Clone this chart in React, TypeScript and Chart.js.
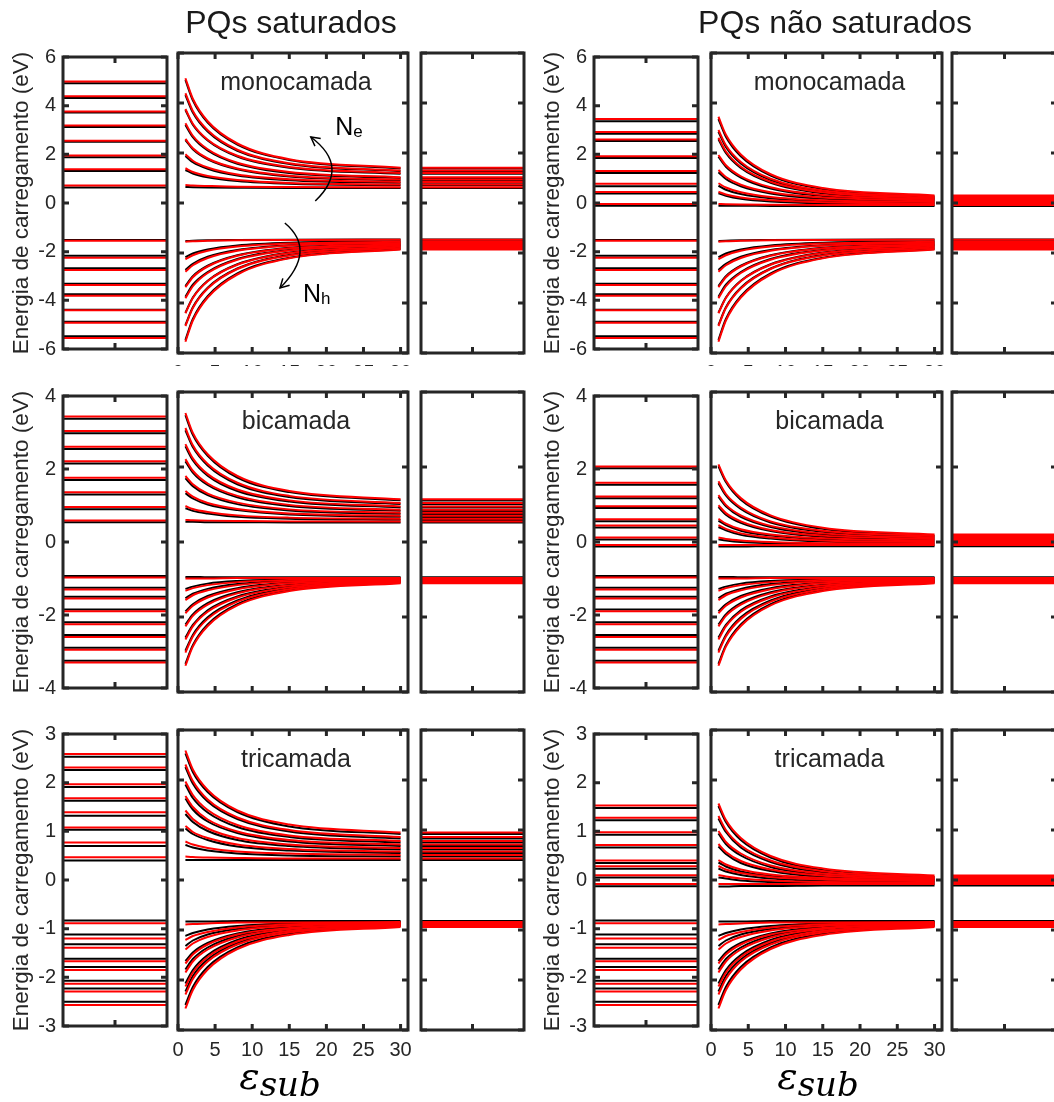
import React, { useEffect, useRef } from 'react';
import { Chart, registerables } from 'chart.js';

Chart.register(...registerables);

// ε_sub values at which every charging-energy curve is sampled
const EPS_SUB = [1, 2, 4, 8, 15, 30];

// Axis ticks
const EPS_TICKS = [0, 5, 10, 15, 20, 25, 30];
const EPS_MAX = 31;
const LEVEL_TICKS = [0.5];
const MONO_Y_TICKS = [-6, -4, -2, 0, 2, 4, 6];
const BI_Y_TICKS = [-4, -2, 0, 2, 4];
const TRI_Y_TICKS = [-3, -2, -1, 0, 1, 2, 3];

// ---- monocamada ----
// electrons (Ne), PQs saturados; one row per level, one column per EPS_SUB
const MONO_SAT_E_RED = [
  [0.72, 0.70, 0.68, 0.65, 0.64, 0.63],
  [1.39, 1.24, 1.08, 0.92, 0.80, 0.74],
  [1.95, 1.69, 1.42, 1.14, 0.95, 0.84],
  [2.56, 2.19, 1.78, 1.38, 1.09, 0.94],
  [3.19, 2.69, 2.15, 1.61, 1.24, 1.03],
  [3.76, 3.17, 2.53, 1.89, 1.44, 1.20],
  [4.39, 3.68, 2.91, 2.13, 1.59, 1.30],
  [4.99, 4.17, 3.27, 2.38, 1.75, 1.41],
];
const MONO_SAT_E_BLK = [
  [0.64, 0.63, 0.62, 0.61, 0.60, 0.60],
  [1.32, 1.18, 1.03, 0.88, 0.77, 0.71],
  [1.88, 1.63, 1.37, 1.10, 0.91, 0.81],
  [2.52, 2.15, 1.75, 1.35, 1.06, 0.91],
  [3.12, 2.63, 2.10, 1.57, 1.20, 1.00],
  [3.72, 3.13, 2.50, 1.86, 1.41, 1.17],
  [4.32, 3.62, 2.86, 2.09, 1.56, 1.27],
  [4.92, 4.11, 3.22, 2.34, 1.72, 1.38],
];
// electrons (Ne), PQs não saturados
const MONO_NSAT_E_RED = [
  [-0.04, -0.05, -0.06, -0.07, -0.08, -0.08],
  [0.45, 0.34, 0.22, 0.11, 0.03, -0.02],
  [0.79, 0.62, 0.43, 0.24, 0.11, 0.04],
  [1.32, 1.04, 0.73, 0.43, 0.22, 0.10],
  [1.92, 1.51, 1.07, 0.63, 0.32, 0.15],
  [2.61, 2.06, 1.45, 0.85, 0.43, 0.20],
  [2.92, 2.31, 1.64, 0.97, 0.50, 0.25],
  [3.45, 2.73, 1.94, 1.15, 0.60, 0.30],
];
const MONO_NSAT_E_BLK = [
  [-0.11, -0.11, -0.11, -0.12, -0.12, -0.12],
  [0.39, 0.29, 0.17, 0.06, -0.02, -0.06],
  [0.69, 0.53, 0.36, 0.19, 0.07, 0.0],
  [1.23, 0.96, 0.67, 0.38, 0.17, 0.06],
  [1.85, 1.45, 1.02, 0.58, 0.28, 0.11],
  [2.55, 2.00, 1.40, 0.81, 0.39, 0.16],
  [2.85, 2.24, 1.58, 0.92, 0.46, 0.21],
  [3.36, 2.65, 1.87, 1.10, 0.56, 0.26],
];
// holes (Nh), same for both cases
const MONO_H_RED = [
  [-1.55, -1.53, -1.51, -1.49, -1.48, -1.47],
  [-2.25, -2.09, -1.91, -1.74, -1.62, -1.55],
  [-2.75, -2.49, -2.20, -1.91, -1.71, -1.60],
  [-3.37, -2.97, -2.54, -2.11, -1.81, -1.65],
  [-3.81, -3.33, -2.80, -2.27, -1.90, -1.70],
  [-4.41, -3.80, -3.13, -2.47, -2.00, -1.75],
  [-4.92, -4.20, -3.42, -2.64, -2.10, -1.80],
  [-5.55, -4.70, -3.78, -2.86, -2.21, -1.86],
];
const MONO_H_BLK = [
  [-1.52, -1.51, -1.49, -1.48, -1.47, -1.46],
  [-2.17, -2.02, -1.86, -1.70, -1.59, -1.53],
  [-2.68, -2.43, -2.15, -1.88, -1.69, -1.58],
  [-3.32, -2.93, -2.51, -2.09, -1.79, -1.63],
  [-3.75, -3.27, -2.76, -2.24, -1.88, -1.68],
  [-4.39, -3.78, -3.11, -2.45, -1.98, -1.73],
  [-4.88, -4.17, -3.39, -2.62, -2.08, -1.78],
  [-5.48, -4.64, -3.73, -2.82, -2.19, -1.84],
];

// ---- bicamada ----
const BI_SAT_E_RED = [
  [0.59, 0.58, 0.57, 0.56, 0.55, 0.55],
  [0.96, 0.88, 0.80, 0.71, 0.65, 0.62],
  [1.36, 1.21, 1.04, 0.88, 0.76, 0.70],
  [1.76, 1.54, 1.29, 1.05, 0.87, 0.78],
  [2.21, 1.90, 1.56, 1.23, 0.99, 0.86],
  [2.61, 2.23, 1.81, 1.40, 1.11, 0.95],
  [3.04, 2.58, 2.08, 1.58, 1.23, 1.04],
  [3.44, 2.91, 2.34, 1.76, 1.36, 1.14],
];
const BI_SAT_E_BLK = [
  [0.54, 0.54, 0.53, 0.53, 0.52, 0.52],
  [0.90, 0.83, 0.76, 0.67, 0.62, 0.59],
  [1.30, 1.16, 1.00, 0.85, 0.73, 0.67],
  [1.70, 1.49, 1.25, 1.01, 0.84, 0.75],
  [2.15, 1.85, 1.52, 1.19, 0.96, 0.83],
  [2.55, 2.18, 1.77, 1.36, 1.08, 0.92],
  [2.98, 2.53, 2.04, 1.54, 1.20, 1.01],
  [3.38, 2.86, 2.30, 1.72, 1.33, 1.11],
];
const BI_NSAT_E_RED = [
  [-0.08, -0.08, -0.08, -0.08, -0.08, -0.08],
  [0.12, 0.08, 0.04, 0.00, -0.03, -0.04],
  [0.45, 0.35, 0.23, 0.12, 0.04, 0.0],
  [0.62, 0.49, 0.34, 0.20, 0.10, 0.04],
  [0.98, 0.77, 0.55, 0.32, 0.17, 0.08],
  [1.25, 0.99, 0.71, 0.43, 0.23, 0.12],
  [1.62, 1.28, 0.92, 0.55, 0.30, 0.16],
  [2.07, 1.64, 1.17, 0.71, 0.38, 0.20],
];
const BI_NSAT_E_BLK = [
  [-0.12, -0.12, -0.12, -0.11, -0.11, -0.11],
  [0.07, 0.04, 0.00, -0.03, -0.06, -0.07],
  [0.40, 0.31, 0.19, 0.09, 0.01, -0.03],
  [0.57, 0.45, 0.30, 0.17, 0.07, 0.01],
  [0.93, 0.73, 0.51, 0.29, 0.14, 0.05],
  [1.20, 0.95, 0.67, 0.40, 0.20, 0.09],
  [1.57, 1.24, 0.88, 0.52, 0.27, 0.13],
  [2.02, 1.60, 1.13, 0.68, 0.35, 0.17],
];
const BI_H_RED = [
  [-0.97, -0.97, -0.97, -0.96, -0.96, -0.96],
  [-1.30, -1.23, -1.15, -1.07, -1.01, -0.98],
  [-1.55, -1.42, -1.29, -1.15, -1.05, -1.00],
  [-1.90, -1.70, -1.48, -1.26, -1.10, -1.02],
  [-2.25, -1.97, -1.67, -1.37, -1.16, -1.04],
  [-2.60, -2.25, -1.86, -1.48, -1.21, -1.06],
  [-2.95, -2.52, -2.05, -1.59, -1.26, -1.08],
  [-3.30, -2.79, -2.24, -1.69, -1.31, -1.10],
];
const BI_H_BLK = [
  [-0.93, -0.93, -0.94, -0.94, -0.94, -0.94],
  [-1.25, -1.19, -1.11, -1.04, -0.99, -0.96],
  [-1.50, -1.38, -1.25, -1.12, -1.03, -0.98],
  [-1.85, -1.66, -1.44, -1.23, -1.08, -1.00],
  [-2.20, -1.93, -1.63, -1.34, -1.14, -1.02],
  [-2.55, -2.21, -1.82, -1.45, -1.19, -1.04],
  [-2.90, -2.48, -2.01, -1.56, -1.24, -1.06],
  [-3.25, -2.75, -2.20, -1.66, -1.29, -1.08],
];

// ---- tricamada ----
const TRI_SAT_E_RED = [
  [0.47, 0.46, 0.45, 0.44, 0.43, 0.43],
  [0.77, 0.71, 0.64, 0.57, 0.53, 0.50],
  [1.08, 0.96, 0.84, 0.71, 0.62, 0.57],
  [1.39, 1.22, 1.03, 0.84, 0.71, 0.64],
  [1.68, 1.46, 1.21, 0.97, 0.80, 0.71],
  [1.97, 1.70, 1.40, 1.10, 0.89, 0.78],
  [2.31, 1.98, 1.61, 1.25, 1.00, 0.86],
  [2.59, 2.21, 1.80, 1.39, 1.11, 0.95],
];
const TRI_SAT_E_BLK = [
  [0.40, 0.40, 0.40, 0.40, 0.40, 0.40],
  [0.70, 0.65, 0.59, 0.53, 0.49, 0.47],
  [1.03, 0.92, 0.80, 0.67, 0.59, 0.54],
  [1.32, 1.16, 0.98, 0.80, 0.68, 0.61],
  [1.63, 1.41, 1.17, 0.94, 0.77, 0.68],
  [1.91, 1.64, 1.35, 1.06, 0.86, 0.75],
  [2.26, 1.93, 1.57, 1.22, 0.97, 0.83],
  [2.53, 2.16, 1.76, 1.36, 1.07, 0.92],
];
const TRI_NSAT_E_RED = [
  [-0.08, -0.08, -0.08, -0.08, -0.08, -0.08],
  [0.10, 0.07, 0.03, -0.01, -0.04, -0.05],
  [0.28, 0.21, 0.14, 0.06, 0.01, -0.02],
  [0.40, 0.31, 0.21, 0.11, 0.04, 0.0],
  [0.72, 0.56, 0.38, 0.21, 0.09, 0.02],
  [0.98, 0.76, 0.53, 0.29, 0.13, 0.04],
  [1.28, 1.00, 0.69, 0.39, 0.18, 0.06],
  [1.53, 1.20, 0.84, 0.48, 0.23, 0.09],
];
const TRI_NSAT_E_BLK = [
  [-0.13, -0.13, -0.12, -0.12, -0.11, -0.11],
  [0.05, 0.03, -0.01, -0.04, -0.07, -0.08],
  [0.23, 0.17, 0.10, 0.03, -0.02, -0.05],
  [0.35, 0.27, 0.17, 0.08, 0.01, -0.03],
  [0.67, 0.52, 0.34, 0.18, 0.06, -0.01],
  [0.93, 0.72, 0.49, 0.26, 0.10, 0.01],
  [1.23, 0.96, 0.65, 0.36, 0.15, 0.03],
  [1.48, 1.16, 0.80, 0.45, 0.20, 0.06],
];
const TRI_H_RED = [
  [-0.89, -0.88, -0.87, -0.85, -0.85, -0.84],
  [-1.20, -1.12, -1.04, -0.95, -0.89, -0.86],
  [-1.39, -1.27, -1.14, -1.01, -0.92, -0.87],
  [-1.67, -1.49, -1.29, -1.09, -0.96, -0.88],
  [-1.85, -1.63, -1.39, -1.15, -0.98, -0.89],
  [-2.13, -1.85, -1.54, -1.23, -1.02, -0.90],
  [-2.29, -1.98, -1.63, -1.29, -1.05, -0.92],
  [-2.57, -2.20, -1.79, -1.38, -1.10, -0.94],
];
const TRI_H_BLK = [
  [-0.83, -0.83, -0.83, -0.82, -0.82, -0.82],
  [-1.12, -1.06, -0.99, -0.92, -0.87, -0.84],
  [-1.32, -1.21, -1.09, -0.98, -0.90, -0.85],
  [-1.62, -1.45, -1.26, -1.07, -0.93, -0.86],
  [-1.79, -1.58, -1.35, -1.12, -0.96, -0.87],
  [-2.07, -1.80, -1.50, -1.20, -0.99, -0.88],
  [-2.23, -1.92, -1.59, -1.26, -1.03, -0.90],
  [-2.50, -2.14, -1.74, -1.35, -1.07, -0.92],
];

// Curved arrows with carrier labels, in (ε_sub, eV) coordinates of the top-left curve panel
const CARRIER_ARROWS = [
  { from: [18.5, 0.08], ctrl: [23.3, 1.44], to: [17.9, 2.64], label: [21.2, 2.72], sub: 'e' },
  { from: [14.4, -0.8], ctrl: [18.8, -1.9], to: [13.75, -3.4], label: [16.85, -3.96], sub: 'h' },
];

const RED = '#ff0000';
const BLACK = '#000000';
const INK = '#262626';
const SANS = "'Liberation Sans', Arial, Helvetica, sans-serif";
const Y_TITLE = 'Energia de carregamento (eV)';

type Curves = number[][];
interface GroupData { eRed: Curves; eBlk: Curves; hRed: Curves; hBlk: Curves }
interface RowData { label: string; yTicks: number[]; groups: GroupData[] }

const ROWS: RowData[] = [
  {
    label: 'monocamada', yTicks: MONO_Y_TICKS, groups: [
      { eRed: MONO_SAT_E_RED, eBlk: MONO_SAT_E_BLK, hRed: MONO_H_RED, hBlk: MONO_H_BLK },
      { eRed: MONO_NSAT_E_RED, eBlk: MONO_NSAT_E_BLK, hRed: MONO_H_RED, hBlk: MONO_H_BLK },
    ],
  },
  {
    label: 'bicamada', yTicks: BI_Y_TICKS, groups: [
      { eRed: BI_SAT_E_RED, eBlk: BI_SAT_E_BLK, hRed: BI_H_RED, hBlk: BI_H_BLK },
      { eRed: BI_NSAT_E_RED, eBlk: BI_NSAT_E_BLK, hRed: BI_H_RED, hBlk: BI_H_BLK },
    ],
  },
  {
    label: 'tricamada', yTicks: TRI_Y_TICKS, groups: [
      { eRed: TRI_SAT_E_RED, eBlk: TRI_SAT_E_BLK, hRed: TRI_H_RED, hBlk: TRI_H_BLK },
      { eRed: TRI_NSAT_E_RED, eBlk: TRI_NSAT_E_BLK, hRed: TRI_H_RED, hBlk: TRI_H_BLK },
    ],
  },
];

const GROUP_TITLES = ['PQs saturados', 'PQs não saturados'];

// Page layout (plot-area edges in px)
const GROUP_LAYOUT = [
  { origin: 0, start: [63, 167], curves: [178, 408], end: [421, 524], titleX: 291, epsX: 280 },
  { origin: 531, start: [594, 698], curves: [711, 942], end: [952, 1057], titleX: 835, epsX: 818 },
];
const ROW_TOP = [53, 392, 730];
const PANEL_H = 300;
const PAD = 15;
const TICK_LEN = 6;

// Box with inward tick marks on all four sides
const framePlugin = {
  id: 'frame',
  afterDatasetsDraw(chart: any, _args: any, opts: any) {
    const { ctx, chartArea: a } = chart;
    const xs = chart.scales.x;
    const ys = chart.scales.y;
    ctx.save();
    ctx.strokeStyle = INK;
    ctx.lineWidth = 3;
    ctx.beginPath();
    for (const v of opts.xTicks || []) {
      const p = xs.getPixelForValue(v);
      ctx.moveTo(p, a.top);
      ctx.lineTo(p, a.top + TICK_LEN);
      ctx.moveTo(p, a.bottom);
      ctx.lineTo(p, a.bottom - TICK_LEN);
    }
    for (const v of opts.yTicks || []) {
      const p = ys.getPixelForValue(v);
      ctx.moveTo(a.left, p);
      ctx.lineTo(a.left + TICK_LEN, p);
      ctx.moveTo(a.right, p);
      ctx.lineTo(a.right - TICK_LEN, p);
    }
    ctx.stroke();
    ctx.strokeRect(a.left, a.top, a.right - a.left, a.bottom - a.top);
    ctx.restore();
  },
};

// Layer name written inside the top of the curve panel
const insetLabelPlugin = {
  id: 'insetLabel',
  afterDraw(chart: any, _args: any, opts: any) {
    if (!opts.text) return;
    const { ctx, chartArea: a } = chart;
    ctx.save();
    ctx.font = `25px ${SANS}`;
    ctx.fillStyle = INK;
    ctx.textAlign = 'center';
    ctx.textBaseline = 'alphabetic';
    ctx.fillText(opts.text, (a.left + a.right) / 2 + 3, a.top + 37);
    ctx.restore();
  },
};

const carrierArrowsPlugin = {
  id: 'carrierArrows',
  afterDatasetsDraw(chart: any) {
    const { ctx } = chart;
    const xs = chart.scales.x;
    const ys = chart.scales.y;
    const px = (p: number[]) => [xs.getPixelForValue(p[0]), ys.getPixelForValue(p[1])];
    ctx.save();
    ctx.strokeStyle = '#000';
    ctx.fillStyle = '#000';
    ctx.lineWidth = 1.5;
    for (const arr of CARRIER_ARROWS) {
      const [x0, y0] = px(arr.from);
      const [cx, cy] = px(arr.ctrl);
      const [x1, y1] = px(arr.to);
      ctx.beginPath();
      ctx.moveTo(x0, y0);
      ctx.quadraticCurveTo(cx, cy, x1, y1);
      ctx.stroke();
      const ang = Math.atan2(y1 - cy, x1 - cx);
      const L = 10;
      ctx.beginPath();
      ctx.moveTo(x1 - L * Math.cos(ang - 0.5), y1 - L * Math.sin(ang - 0.5));
      ctx.lineTo(x1, y1);
      ctx.lineTo(x1 - L * Math.cos(ang + 0.5), y1 - L * Math.sin(ang + 0.5));
      ctx.stroke();
      const [lx, ly] = px(arr.label);
      ctx.textAlign = 'left';
      ctx.textBaseline = 'alphabetic';
      ctx.font = `25px ${SANS}`;
      ctx.fillText('N', lx, ly);
      const w = ctx.measureText('N').width;
      ctx.font = `17px ${SANS}`;
      ctx.fillText(arr.sub, lx + w, ly + 2);
    }
    ctx.restore();
  },
};

type Kind = 'start' | 'curves' | 'end';
interface PanelSpec {
  id: string;
  kind: Kind;
  data: GroupData;
  yTicks: number[];
  label?: string;
  left: number; top: number; width: number; height: number; clipHeight: number;
  padding: { left: number; right: number; top: number; bottom: number };
  yAxisWidth: number;
  xLabels: boolean;
  annotate: boolean;
}

function buildPanels(): PanelSpec[] {
  const out: PanelSpec[] = [];
  ROWS.forEach((row, r) => {
    GROUP_LAYOUT.forEach((g, gi) => {
      const top = ROW_TOP[r];
      const data = row.groups[gi];
      // levels at ε_sub = 1
      out.push({
        id: `s${r}${gi}`, kind: 'start', data, yTicks: row.yTicks,
        left: g.origin, top: top - PAD, width: g.start[1] + 4 - g.origin, height: PANEL_H + 2 * PAD,
        clipHeight: PANEL_H + 2 * PAD,
        padding: { left: 0, right: 4, top: PAD, bottom: PAD },
        yAxisWidth: g.start[0] - g.origin, xLabels: false, annotate: false,
      });
      // curves versus ε_sub
      const xLabels = r !== 1;
      const h = PAD + PANEL_H + (xLabels ? 40 : PAD);
      out.push({
        id: `c${r}${gi}`, kind: 'curves', data, yTicks: row.yTicks, label: row.label,
        left: g.curves[0] - PAD, top: top - PAD, width: g.curves[1] - g.curves[0] + 2 * PAD, height: h,
        clipHeight: r === 0 ? 366 - (top - PAD) : h,
        padding: { left: PAD, right: PAD, top: PAD, bottom: xLabels ? 10 : PAD },
        yAxisWidth: 0, xLabels, annotate: r === 0 && gi === 0,
      });
      // levels at ε_sub = 30
      out.push({
        id: `e${r}${gi}`, kind: 'end', data, yTicks: row.yTicks,
        left: g.end[0] - 5, top: top - PAD, width: g.end[1] - g.end[0] + 10, height: PANEL_H + 2 * PAD,
        clipHeight: PANEL_H + 2 * PAD,
        padding: { left: 5, right: 5, top: PAD, bottom: PAD },
        yAxisWidth: 0, xLabels: false, annotate: false,
      });
    });
  });
  return out;
}

function levelSets(curves: Curves, color: string, atEnd: boolean) {
  return curves.map((c) => {
    const v = atEnd ? c[c.length - 1] : c[0];
    return {
      data: [{ x: 0, y: v }, { x: 1, y: v }],
      borderColor: color, borderWidth: 2, pointRadius: 0, fill: false,
    };
  });
}

function curveSets(curves: Curves, color: string) {
  return curves.map((c) => ({
    data: EPS_SUB.map((e, i) => ({ x: e, y: c[i] })),
    borderColor: color, borderWidth: 2, pointRadius: 0, fill: false,
    cubicInterpolationMode: 'monotone',
  }));
}

function buildConfig(spec: PanelSpec): any {
  const d = spec.data;
  let datasets: any[];
  if (spec.kind === 'curves') {
    // red first so it is painted over the black set
    datasets = [
      ...curveSets(d.eRed, RED), ...curveSets(d.hRed, RED),
      ...curveSets(d.eBlk, BLACK), ...curveSets(d.hBlk, BLACK),
    ];
  } else {
    const atEnd = spec.kind === 'end';
    datasets = [
      ...levelSets(d.eRed, RED, atEnd), ...levelSets(d.hRed, RED, atEnd),
      ...levelSets(d.eBlk, BLACK, atEnd), ...levelSets(d.hBlk, BLACK, atEnd),
    ];
  }
  const yt = spec.yTicks;
  const tickFont = { family: SANS, size: 20 };
  const plugins: any[] = [framePlugin, insetLabelPlugin];
  if (spec.annotate) plugins.push(carrierArrowsPlugin);
  const xAxis: any = {
    type: 'linear',
    min: 0,
    max: spec.kind === 'curves' ? EPS_MAX : 1,
    display: spec.xLabels,
    grid: { display: false, drawTicks: false },
    border: { display: false },
    ticks: {
      stepSize: 5, includeBounds: false, autoSkip: false, maxRotation: 0,
      padding: 8, color: INK, font: tickFont,
    },
  };
  if (spec.xLabels) xAxis.afterFit = (s: any) => { s.height = 30; };
  const yAxis: any = {
    type: 'linear',
    min: yt[0],
    max: yt[yt.length - 1],
    display: spec.kind === 'start',
    grid: { display: false, drawTicks: false },
    border: { display: false },
    ticks: { stepSize: yt[1] - yt[0], padding: 7, color: INK, font: tickFont },
    title: {
      display: true, text: Y_TITLE, color: INK,
      font: { family: SANS, size: 22.5 }, padding: { top: 8, bottom: 0 },
    },
  };
  if (spec.kind === 'start') yAxis.afterFit = (s: any) => { s.width = spec.yAxisWidth; };
  return {
    type: 'line',
    data: { datasets },
    plugins,
    options: {
      animation: false,
      responsive: false,
      maintainAspectRatio: false,
      devicePixelRatio: 1,
      events: [],
      layout: { padding: spec.padding },
      elements: { point: { radius: 0 }, line: { tension: 0 } },
      plugins: {
        legend: { display: false },
        tooltip: { enabled: false },
        title: { display: false },
        frame: { xTicks: spec.kind === 'curves' ? EPS_TICKS : LEVEL_TICKS, yTicks: yt },
        insetLabel: { text: spec.kind === 'curves' ? spec.label : '' },
      },
      scales: { x: xAxis, y: yAxis },
    },
  };
}

function PanelChart({ spec }: { spec: PanelSpec }) {
  const ref = useRef<HTMLCanvasElement>(null);
  useEffect(() => {
    if (!ref.current) return;
    const chart = new Chart(ref.current, buildConfig(spec));
    return () => chart.destroy();
  }, [spec]);
  return (
    <div
      style={{
        position: 'absolute', left: spec.left, top: spec.top,
        width: spec.width, height: spec.clipHeight, overflow: 'hidden',
      }}
    >
      <canvas
        ref={ref}
        width={spec.width}
        height={spec.height}
        style={{ display: 'block', width: spec.width, height: spec.height }}
      />
    </div>
  );
}

const PANELS = buildPanels();

export default function App() {
  return (
    <div
      style={{
        position: 'absolute', left: 0, top: 0, width: 1054, height: 1102,
        overflow: 'hidden', background: '#ffffff',
      }}
    >
      {PANELS.map((p) => (
        <PanelChart key={p.id} spec={p} />
      ))}
      {GROUP_LAYOUT.map((g, gi) => (
        <div
          key={`t${gi}`}
          style={{
            position: 'absolute', left: g.titleX - 250, width: 500, top: 6,
            textAlign: 'center', fontFamily: SANS, fontSize: 32, lineHeight: '32px',
            color: '#1a1a1a', whiteSpace: 'nowrap',
          }}
        >
          {GROUP_TITLES[gi]}
        </div>
      ))}
      {GROUP_LAYOUT.map((g, gi) => (
        <div
          key={`x${gi}`}
          style={{
            position: 'absolute', left: g.epsX - 100, width: 200, top: 1057,
            textAlign: 'center', fontFamily: "'DejaVu Serif', serif", fontStyle: 'italic',
            fontSize: 38, lineHeight: '38px', color: '#000', whiteSpace: 'nowrap',
          }}
        >
          ε<span style={{ fontSize: 34, position: 'relative', top: 7 }}>sub</span>
        </div>
      ))}
    </div>
  );
}
